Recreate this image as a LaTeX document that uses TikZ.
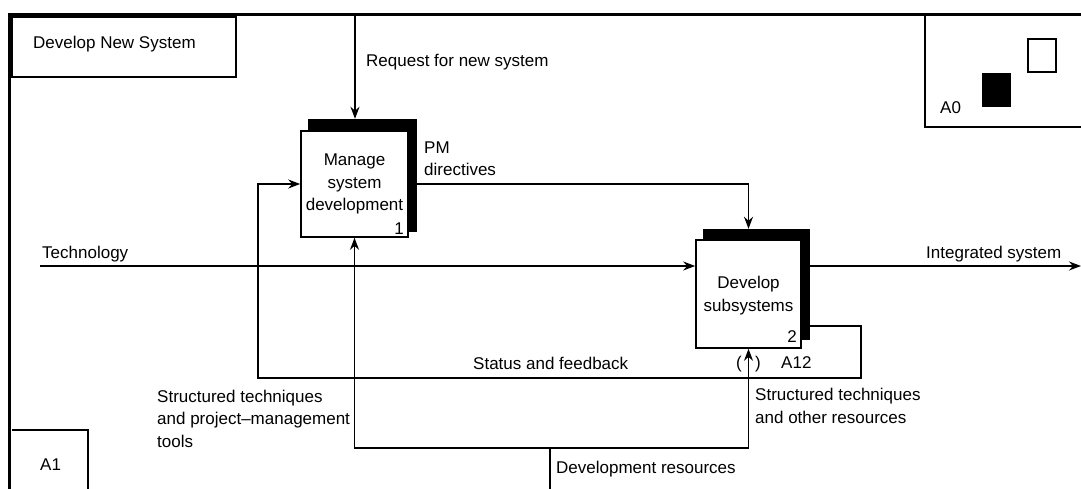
\documentclass[tikz,border=0pt]{standalone}
\usepackage{fontspec}
\setmainfont{Liberation Sans}
\usetikzlibrary{arrows.meta}
\begin{document}
\begin{tikzpicture}[x=1pt,y=-1pt,
  every node/.style={font=\fontsize{17}{22.5}\selectfont, inner sep=0pt},
  arr/.style={line width=1.4pt, -{Stealth[length=12pt,width=9pt]}},
  flow/.style={line width=1.4pt},
  act/.style={draw, line width=1.6pt, fill=white, align=center},
  shadowbox/.style={fill=black, draw=none},
  lbl/.style={anchor=base west, align=left},
  frameline/.style={line width=3.5pt},
  thinbox/.style={line width=1.2pt}]
\useasboundingbox (0,0) rectangle (1081,489);
\clip (0,0) rectangle (1081,489);

% sheet frame
\coordinate (fTL) at (9.5,14.5);
\coordinate (fTR) at (1085,14.5);
\coordinate (fBL) at (9.5,492);
\draw[frameline] (fBL) -- (fTL) -- (fTR);

% title block
\node[draw, thinbox, minimum width=224pt, minimum height=60pt] (tbox) at (124,47) {};
\node[lbl] (title) at (33,49) {Develop New System};

% node index block with parent diagram marker
\coordinate (a0top) at (925,14);
\coordinate (a0corner) at (925,127);
\coordinate (a0right) at (1085,127);
\draw[thinbox] (a0top) -- (a0corner) -- (a0right);
\node[draw, thinbox, minimum width=28pt, minimum height=33pt] (sqw) at (1042,55.5) {};
\node[fill=black, minimum width=29pt, minimum height=34pt] (sqb) at (996.5,90) {};
\node[lbl] (a0) at (940,114) {A0};

% node number block
\coordinate (a1a) at (12,430);
\coordinate (a1b) at (88,430);
\coordinate (a1c) at (88,492);
\draw[thinbox] (a1a) -- (a1b) -- (a1c);
\node[lbl] (a1) at (40,470) {A1};

% activity boxes with their shadows
\node[shadowbox, minimum width=109pt, minimum height=113pt] (s1) at (362.5,175.5) {};
\node[act, minimum width=107pt, minimum height=106pt] (b1) at (354.5,184)
  {Manage\\system\\development};
\node[anchor=base east] (n1) at (404,234) {1};

\node[shadowbox, minimum width=107pt, minimum height=111pt] (s2) at (756.5,284.5) {};
\node[act, minimum width=105pt, minimum height=108pt, text depth=0pt] (b2) at (748.5,294)
  {Develop\\subsystems};
\node[anchor=base east] (n2) at (797,342) {2};

% control: request
\coordinate (reqin) at (355,14);
\draw[arr] (reqin) -- (reqin |- s1.north);
\node[lbl] (reqlbl) at (366,67) {Request for new system};

% input: technology
\coordinate (techin) at (40,266);
\draw[arr] (techin) -- (techin -| b2.west);
\node[lbl] (techlbl) at (42,258) {Technology};

% output: integrated system
\coordinate (sysout) at (1081,266);
\draw[arr] (s2.east |- sysout) -- (sysout);
\node[lbl] (syslbl) at (926,258) {Integrated system};

% control: PM directives
\draw[arr] (s1.east |- b1.east) -| (b2.north |- s2.north);
\node[lbl] (pmlbl) at (424,176) {PM\\directives};

% feedback loop
\coordinate (fbr) at (861,326);
\coordinate (fbl) at (258,378);
\draw[arr] (s2.east |- fbr) -- (fbr) |- (fbl) |- (b1.west);
\node[lbl] (fblbl) at (473,369) {Status and feedback};

% mechanisms
\coordinate (devin) at (550,492);
\coordinate (mj) at (550,448);
\draw[flow] (devin) -- (mj);
\draw[arr] (mj) -| (b1.south);
\draw[arr] (mj) -| (b2.south);
\node[lbl] (tunl) at (736,368) {(};
\node[lbl] (tunr) at (755,368) {)};
\node[lbl] (a12) at (781,368) {A12};
\node[lbl] (mlbl1) at (157,447) {Structured techniques\\and project--management\\tools};
\node[lbl] (mlbl2) at (755,423) {Structured techniques\\and other resources};
\node[lbl] (devlbl) at (556,473) {Development resources};
\end{tikzpicture}
\end{document}
